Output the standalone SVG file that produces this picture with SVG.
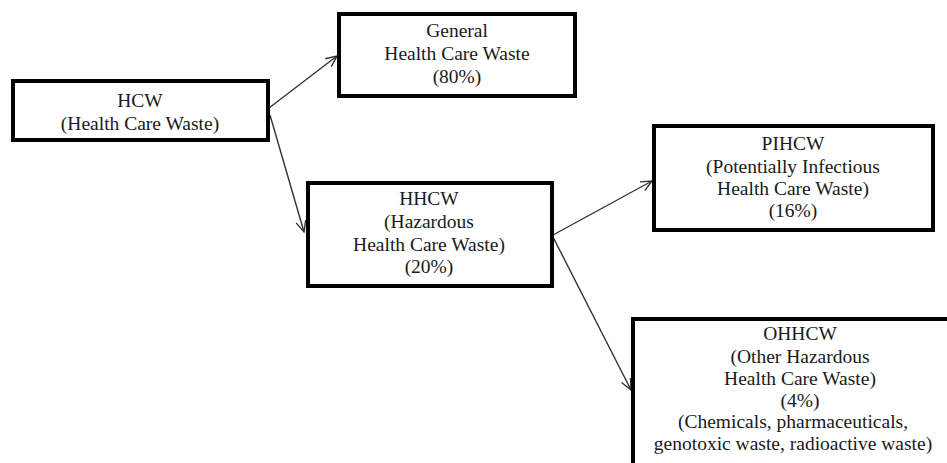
<svg xmlns="http://www.w3.org/2000/svg" width="947" height="463" viewBox="0 0 947 463">
<style>
.box{fill:#fff;stroke:#000;stroke-width:4}
.t{font-family:'Times New Roman',Tinos,'Liberation Serif','Noto Serif','DejaVu Serif',serif;font-size:19.5px;fill:#1a1a1a;text-anchor:middle}
.e{stroke:#333;stroke-width:1.4;fill:none}
</style>
<defs>
<marker id="arr" markerUnits="userSpaceOnUse" markerWidth="14" markerHeight="12" viewBox="0 0 14 12" refX="12" refY="6" orient="auto">
<path d="M1,1 L12,6 L1,11" fill="none" stroke="#333" stroke-width="1.4"/>
</marker>
</defs>
<rect width="947" height="463" fill="#fff"/>
<g id="edges">
<line class="e" x1="269" y1="108" x2="337" y2="56" marker-end="url(#arr)"/>
<line class="e" x1="270" y1="115" x2="304" y2="232" marker-end="url(#arr)"/>
<line class="e" x1="553" y1="235" x2="652" y2="181" marker-end="url(#arr)"/>
<line class="e" x1="553" y1="237" x2="631" y2="390" marker-end="url(#arr)"/>
</g>
<g id="hcw">
<rect class="box" x="13" y="81" width="255" height="59"/>
<text class="t" x="140" y="107">HCW</text>
<text class="t" x="140" y="130">(Health Care Waste)</text>
</g>
<g id="general">
<rect class="box" x="339" y="14" width="236" height="82"/>
<text class="t" x="457" y="37">General</text>
<text class="t" x="457" y="60">Health Care Waste</text>
<text class="t" x="457" y="83">(80%)</text>
</g>
<g id="hhcw">
<rect class="box" x="308" y="183" width="244" height="103"/>
<text class="t" x="429" y="205">HHCW</text>
<text class="t" x="429" y="228">(Hazardous</text>
<text class="t" x="429" y="251">Health Care Waste)</text>
<text class="t" x="429" y="273">(20%)</text>
</g>
<g id="pihcw">
<rect class="box" x="654" y="126" width="279" height="104"/>
<text class="t" x="793" y="150">PIHCW</text>
<text class="t" x="793" y="173">(Potentially Infectious</text>
<text class="t" x="793" y="195">Health Care Waste)</text>
<text class="t" x="793" y="217">(16%)</text>
</g>
<g id="ohhcw">
<rect class="box" x="633" y="319" width="336" height="160"/>
<text class="t" x="800" y="340">OHHCW</text>
<text class="t" x="800" y="363">(Other Hazardous</text>
<text class="t" x="800" y="385">Health Care Waste)</text>
<text class="t" x="800" y="407">(4%)</text>
<text class="t" x="793" y="428">(Chemicals, pharmaceuticals,</text>
<text class="t" x="793" y="450">genotoxic waste, radioactive waste)</text>
</g>
</svg>
